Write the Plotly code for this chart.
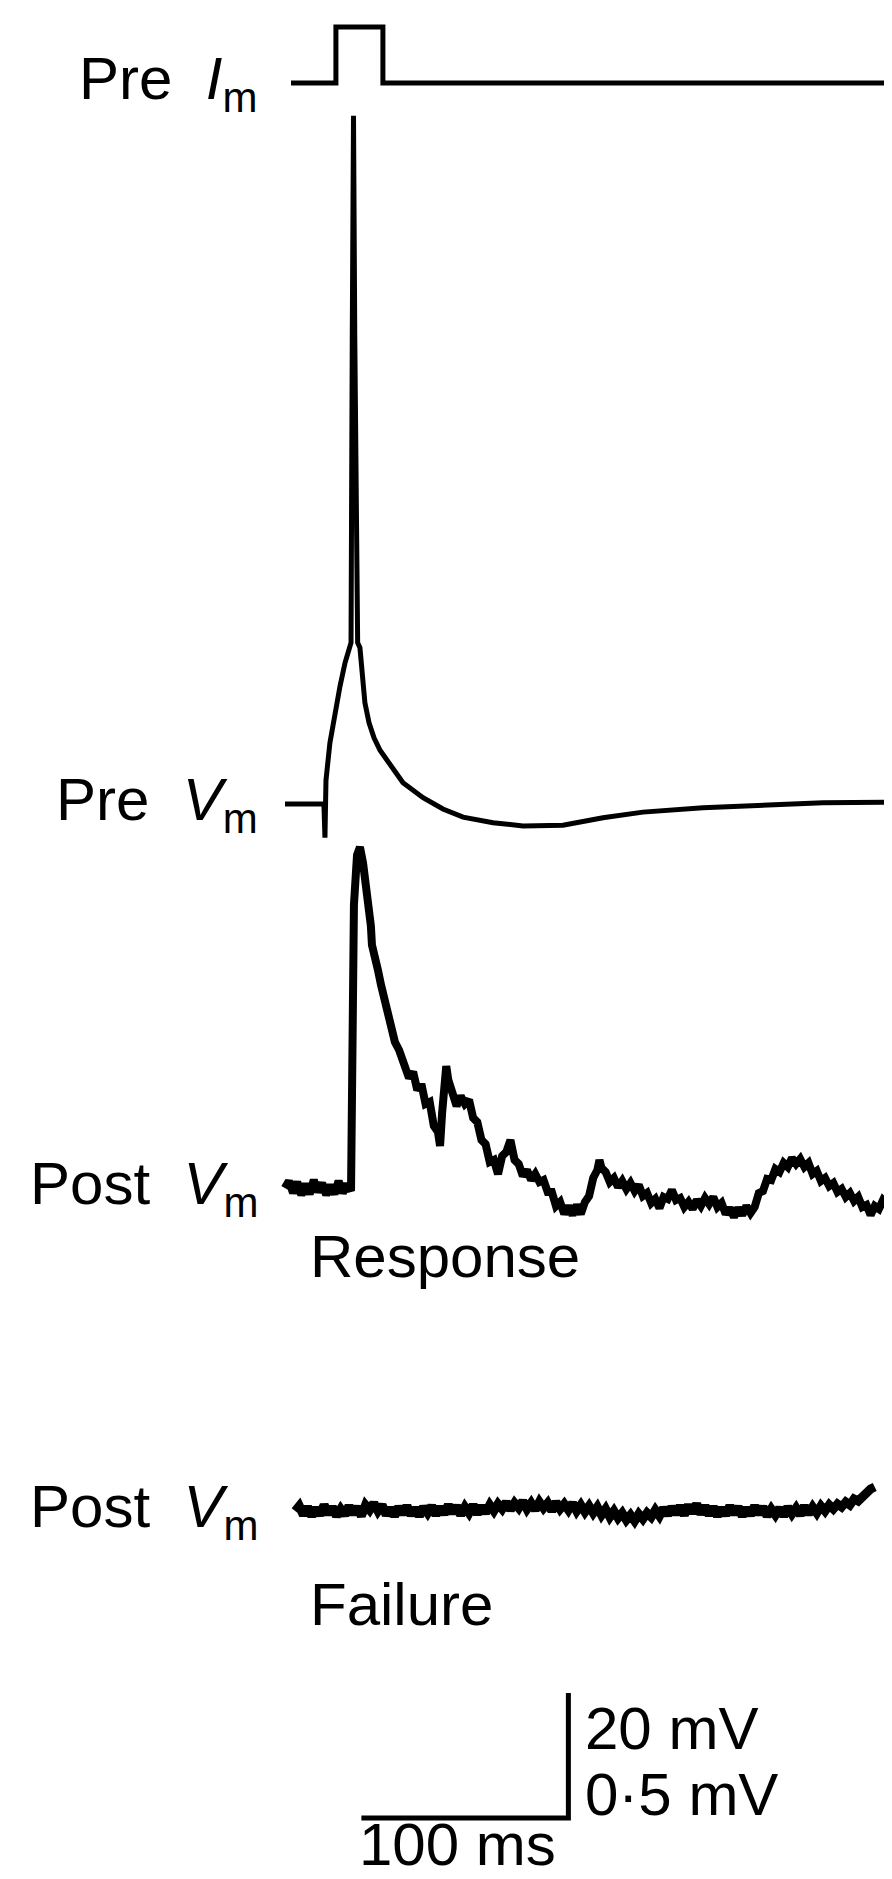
import plotly.graph_objects as go

FIG_W, FIG_H = 892, 1879

# ---------------- data ----------------
# Presynaptic current step (nA)
PRE_I_T = [0, 21.7, 21.7, 44.4, 44.4, 292]
PRE_I_NA = [0, 0, 1, 1, 0, 0]

# Presynaptic membrane potential (mV)
PRE_V_T = [-2.9, 15.9, 16.4, 16.4, 16.9, 18.8, 21.3, 23.7, 26.1, 27.8, 29.0, 29.6, 30.2, 30.8,
           32.2, 33.3, 34.8, 35.7, 37.7, 40.1, 43.0, 48.3, 54.1, 63.8, 73.4, 83.1, 97.6, 112.1,
           131.4, 150.7, 170.0, 199.0, 228.0, 257.0, 292.0]
PRE_V_MV = [-70.0, -70.0, -75.4, -68.2, -66.2, -60.2, -55.4, -51.1, -47.4, -45.5, -44.2, 5.0, 40.1, 5.0,
            -44.2, -45.0, -50.6, -53.8, -57.0, -59.4, -61.4, -63.9, -66.6, -69.0, -70.8, -72.1, -73.0, -73.5,
            -73.4, -72.2, -71.3, -70.6, -70.2, -69.8, -69.7]

# Postsynaptic potential, response trial (uV relative to rest)
RESP_T = [-3, -1, 1, 3, 5, 7, 9, 11, 13, 15, 17, 19, 21, 23, 25, 27, 29,
          30.4, 31.9, 33.3,
          34.8, 35.7, 36.7, 37.7, 38.6, 39.1, 40.6, 42.0, 43.5, 45.4, 46.9, 48.3, 50.2, 52.2, 54.1, 55.6,
          57, 59, 61, 63, 65, 67, 69, 71, 72, 73, 74, 75, 76,
          78, 80, 82, 84, 86, 88, 90, 92, 94, 96, 98, 100, 102, 104, 106, 108, 110, 112,
          114, 116, 118, 120, 122, 124, 126, 128, 130, 132, 134, 136, 138, 140, 142, 144, 146, 148,
          149,
          150, 152, 154, 156, 158, 160, 162, 164, 166, 168, 170, 172, 174, 176, 178, 180, 182, 184,
          186, 188, 190, 192, 194, 196, 198, 200, 202, 204, 206, 208, 210, 212, 214, 216, 218, 220,
          222, 224, 226, 228, 230, 232, 234, 236, 238, 240, 242, 244, 246, 248, 250, 252, 254, 256,
          258, 260, 262, 264, 266, 268, 270, 272, 274, 276, 278, 280, 282, 284, 286, 288,
          292]
RESP_UV = [0, 28, -20, 24, -28, 16, -24, 32, -16, 20, -28, 12, -24, 28, -20, 16, -12,
           1132, 1332, 1364,
           1300, 1252, 1200, 1112, 1048, 972, 900, 872, 812, 752, 688, 632, 584, 552, 508, 480,
           440, 464, 392, 416, 336, 344, 248, 224, 168, 300, 420, 488, 432,
           376, 328, 368, 336, 352, 280, 264, 192, 176, 104, 112, 56, 128, 144, 192, 112, 96, 48,
           72, 32, 56, 24, 32, -16, -16, -72, -56, -104, -72, -108, -68, -104, -56, -32, 40, 72,
           112,
           80, 64, 24, 40, 4, 28, -4, 20, -12, 12, -32, -20, -60, -44, -80, -36, -44, -8,
           -48, -40, -76, -56, -84, -48, -72, -40, -64, -36, -76, -60, -104, -80, -116, -80, -108, -72,
           -100, -76, -20, -12, 36, 32, 76, 64, 100, 84, 120, 96, 116, 84, 100, 56, 68, 28,
           40, 8, 20, -16, -4, -36, -20, -52, -36, -76, -68, -108, -72, -84, -48, -64,
           -48]

# Postsynaptic potential, failure trial (uV relative to rest)
FAIL_T = [2, 4, 6, 8, 10, 12, 14, 16, 18, 20, 22, 24, 26, 28, 30, 32, 34, 36, 38, 40,
          42, 44, 46, 48, 50, 52, 54, 56, 58, 60, 62, 64, 66, 68, 70, 72, 74, 76, 78, 80,
          82, 84, 86, 88, 90, 92, 94, 96, 98, 100, 102, 104, 106, 108, 110, 112, 114, 116, 118, 120,
          122, 124, 126, 128, 130, 132, 134, 136, 138, 140, 142, 144, 146, 148, 150, 152, 154, 156, 158, 160,
          162, 164, 166, 168, 170, 172, 174, 176, 178, 180, 182, 184, 186, 188, 190, 192, 194, 196, 198, 200,
          202, 204, 206, 208, 210, 212, 214, 216, 218, 220, 222, 224, 226, 228, 230, 232, 234, 236, 238, 240,
          242, 244, 246, 248, 250, 252, 254, 256, 258, 260, 262, 264, 266, 268, 270, 272, 274, 276, 278, 280,
          282]
FAIL_UV = [0, 20, -16, 16, -20, 12, -16, 24, -12, 16, -20, 8, -16, 20, -12, 16, -20, 24, 4, 32,
           0, 24, -16, 12, -20, 16, -12, 20, -16, 12, -20, 16, -8, 20, -16, 16, -12, 24, -8, 20,
           -16, 16, -8, 24, -12, 20, -8, 24, 0, 28, 8, 36, 4, 32, 12, 40, 8, 32, 4, 36,
           12, 32, 0, 36, 8, 28, 4, 32, 0, 24, -4, 20, -8, 16, -16, 8, -24, 0, -28, -8,
           -36, -16, -40, -12, -32, -8, -24, 4, -20, 12, -16, 16, -12, 20, -16, 24, -8, 28, -12, 20,
           -16, 16, -20, 12, -16, 20, -12, 16, -20, 12, -16, 20, -12, 16, -20, 8, -16, 12, -20, 16,
           -12, 12, -16, 20, -12, 16, -8, 20, 0, 24, 8, 28, 16, 36, 24, 48, 40, 60, 68, 88,
           96]

# Scale bar sizes
SCALE_MS = 100
SCALE_MV = 20
SCALE_LABELS = ["20 mV", "0·5 mV", "100 ms"]
TRACE_LABELS = ["Pre\u00a0 <i>I</i><sub>m</sub>", "Pre\u00a0 <i>V</i><sub>m</sub>",
                "Post\u00a0 <i>V</i><sub>m</sub>", "Post\u00a0 <i>V</i><sub>m</sub>"]
TRIAL_LABELS = ["Response", "Failure"]

assert len(PRE_I_T) == len(PRE_I_NA)
assert len(PRE_V_T) == len(PRE_V_MV)
assert len(RESP_T) == len(RESP_UV), (len(RESP_T), len(RESP_UV))
assert len(FAIL_T) == len(FAIL_UV), (len(FAIL_T), len(FAIL_UV))

# ---------------- layout (pixel geometry) ----------------
X_ZERO_PX, X_PX_PER_MS = 283, 2.07
SB_T0 = 34  # ms, left end of the scale bar


def yrange(base_px, base_val, px_per_unit):
    hi = base_val + base_px / px_per_unit
    return [hi - FIG_H / px_per_unit, hi]


x_lo = -X_ZERO_PX / X_PX_PER_MS
x_range = [x_lo, x_lo + FIG_W / X_PX_PER_MS]

ranges = {
    "yaxis": yrange(75, 0, 56),          # Pre I_m, nA
    "yaxis2": yrange(796, -70, 6.25),    # Pre V_m, mV
    "yaxis3": yrange(1180, 0, 0.25),     # Post V_m response, uV
    "yaxis4": yrange(1503, 0, 0.25),     # Post V_m failure, uV
    "yaxis5": yrange(1810, 0, 6.25),     # scale bar, mV
}

BLACK = "#000000"
fig = go.Figure()
fig.add_trace(go.Scatter(x=PRE_I_T, y=PRE_I_NA, yaxis="y", mode="lines",
                         line=dict(color=BLACK, width=5)))
fig.add_trace(go.Scatter(x=PRE_V_T, y=PRE_V_MV, yaxis="y2", mode="lines",
                         line=dict(color=BLACK, width=5)))
fig.add_trace(go.Scatter(x=RESP_T, y=RESP_UV, yaxis="y3", mode="lines",
                         line=dict(color=BLACK, width=8)))
fig.add_trace(go.Scatter(x=FAIL_T, y=FAIL_UV, yaxis="y4", mode="lines",
                         line=dict(color=BLACK, width=9)))
fig.add_trace(go.Scatter(x=[SB_T0, SB_T0 + SCALE_MS, SB_T0 + SCALE_MS], y=[0, 0, SCALE_MV],
                         yaxis="y5", mode="lines", line=dict(color=BLACK, width=5)))

FONT = dict(family="Liberation Sans, Arial, Helvetica, sans-serif", size=60, color=BLACK)


def px(x, y):
    return x / FIG_W, 1 - y / FIG_H


annotations = []
label_pos = [(251, 75), (252, 796), (252, 1180), (252, 1503)]
for text, (lx, ly) in zip(TRACE_LABELS, label_pos):
    ax_, ay_ = px(lx, ly)
    annotations.append(dict(text=text, x=ax_, y=ay_, xref="paper", yref="paper",
                            xanchor="right", yanchor="middle", showarrow=False, font=FONT))
for text, (lx, ly) in zip(TRIAL_LABELS, [(300, 1248), (300, 1596)]):
    ax_, ay_ = px(lx, ly)
    annotations.append(dict(text=text, x=ax_, y=ay_, xref="paper", yref="paper",
                            xanchor="left", yanchor="middle", showarrow=False, font=FONT))
for text, (lx, ly) in zip(SCALE_LABELS, [(575, 1720), (575, 1786), (349, 1836)]):
    ax_, ay_ = px(lx, ly)
    annotations.append(dict(text=text, x=ax_, y=ay_, xref="paper", yref="paper",
                            xanchor="left", yanchor="middle", showarrow=False, font=FONT))

layout = dict(
    width=FIG_W, height=FIG_H,
    margin=dict(l=0, r=0, t=0, b=0, pad=0),
    paper_bgcolor="white", plot_bgcolor="white",
    showlegend=False,
    xaxis=dict(range=x_range, visible=False, fixedrange=True),
    annotations=annotations,
)
for i, (name, r) in enumerate(ranges.items()):
    ax = dict(range=r, visible=False, domain=[0, 1], fixedrange=True)
    if i > 0:
        ax["overlaying"] = "y"
    layout[name] = ax
fig.update_layout(**layout)

fig.write_html("out.html")
